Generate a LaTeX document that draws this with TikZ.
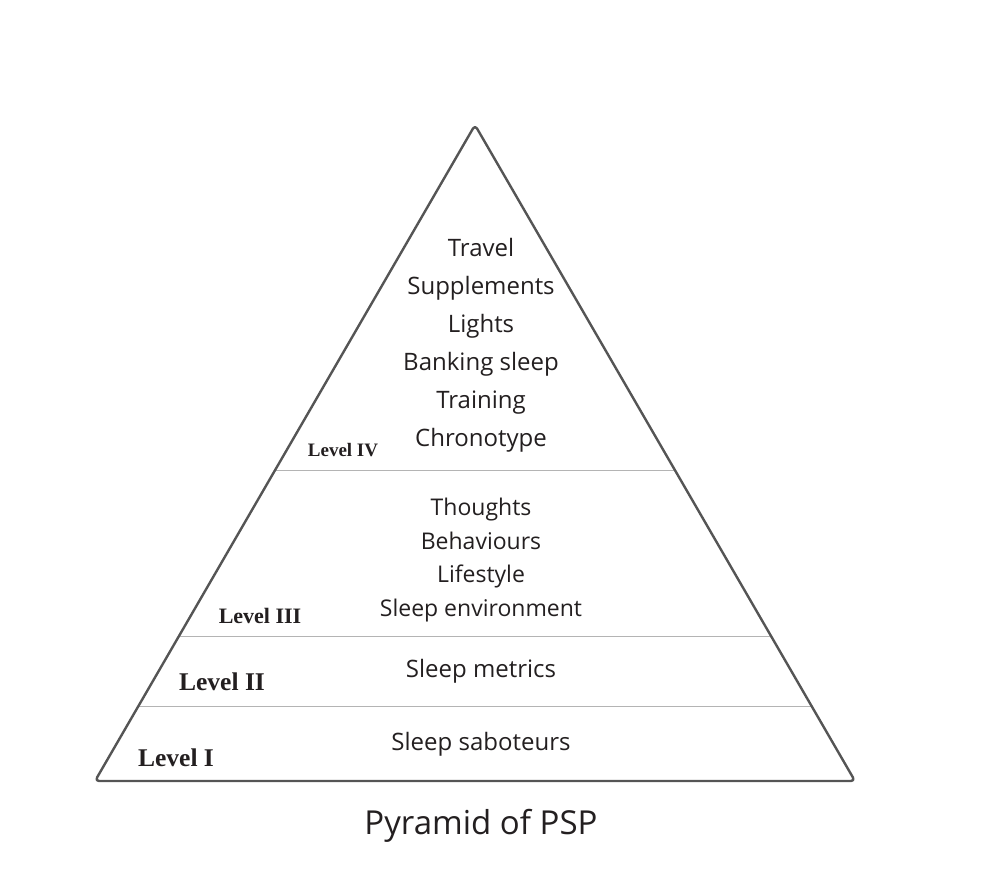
\documentclass[tikz,border=0pt]{standalone}
\usepackage{fontspec}
\setmainfont{Open Sans}
\newfontfamily\levelfont{Liberation Serif}
\usetikzlibrary{calc}
\definecolor{contorno}{HTML}{555555}
\definecolor{divisao}{HTML}{B4B4B4}
\definecolor{texto}{HTML}{231F20}

\begin{document}
\begin{tikzpicture}[x=1pt,y=-1pt,
  itens/.style={align=center,text=texto,inner sep=0pt,font=\fontsize{24}{38}\selectfont},
  nivel/.style={text=texto,inner sep=0pt,font=\levelfont\bfseries},
  divide/.style={divisao,line width=1.3pt}]

\useasboundingbox (0,0) rectangle (982,876);

% Vértices da pirâmide
\coordinate (topo) at (475,125);
\coordinate (esq) at (95,781);
\coordinate (dir) at (855,781);

% Divisões entre os níveis
\foreach \t/\n in {0.527/a,0.780/b,0.886/c}{
  \coordinate (e\n) at ($(topo)!\t!(esq)$);
  \coordinate (d\n) at ($(topo)!\t!(dir)$);
  \draw[divide] (e\n) -- (d\n);
}

% Contorno da pirâmide
\draw[contorno,line width=2.4pt,rounded corners=4pt,line join=round] (esq) -- (topo) -- (dir) -- cycle;

% Nível IV
\node[itens] (quatro) at (481,345) {Travel\\Supplements\\Lights\\Banking sleep\\Training\\Chronotype};
\node[nivel,font=\levelfont\bfseries\fontsize{19}{22}\selectfont] (nquatro) at (343,450) {Level IV};

% Nível III
\node[itens,font=\fontsize{23}{33.5}\selectfont] (tres) at (481,560) {Thoughts\\Behaviours\\Lifestyle\\Sleep environment};
\node[nivel,font=\levelfont\bfseries\fontsize{22}{26}\selectfont] (ntres) at (260,616) {Level III};

% Nível II
\node[itens] (dois) at (481,671) {Sleep metrics};
\node[nivel,font=\levelfont\bfseries\fontsize{25.5}{30}\selectfont] (ndois) at (222,682) {Level II};

% Nível I
\node[itens] (um) at (481,744) {Sleep saboteurs};
\node[nivel,font=\levelfont\bfseries\fontsize{25.5}{30}\selectfont] (num) at (176,758) {Level I};

% Título
\node[itens,font=\fontsize{33}{40}\selectfont] (titulo) at (481,826) {Pyramid of PSP};

\end{tikzpicture}
\end{document}
